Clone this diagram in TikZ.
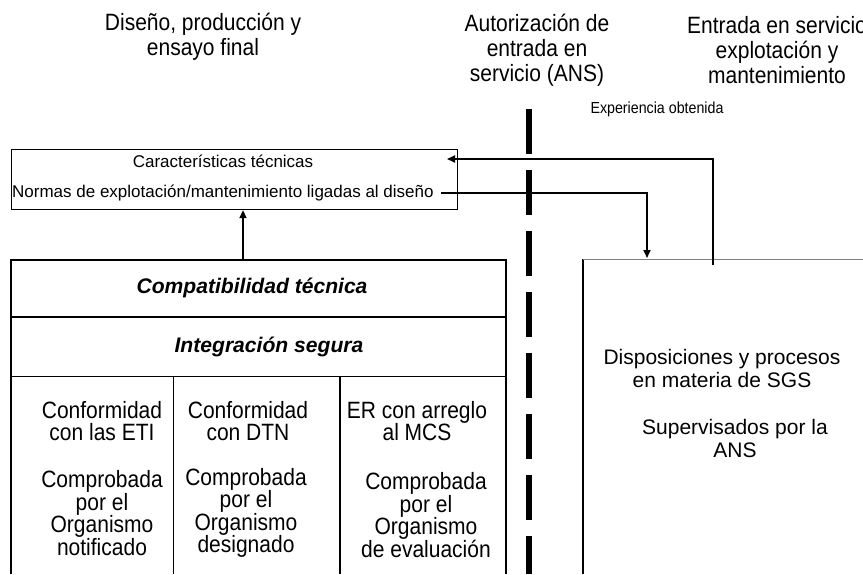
\documentclass[tikz,border=0pt]{standalone}
\usepackage{fontspec}
\setmainfont{Liberation Sans}
\newfontfamily\narrowfont{Liberation Sans}[FakeStretch=0.89]
\usetikzlibrary{arrows.meta, positioning, calc}

\begin{document}
\begin{tikzpicture}[x=1pt, y=-1pt, >={Triangle[length=8pt,width=7pt]},
    head/.style={align=center, font=\narrowfont\fontsize{23.6}{25}\selectfont},
    body/.style={align=center, font=\narrowfont\fontsize{23.6}{22.5}\selectfont},
    wide/.style={align=center, font=\fontsize{21}{23}\selectfont},
    small/.style={font=\fontsize{17}{20}\selectfont},
    title/.style={font=\fontsize{21.1}{24}\selectfont\bfseries\itshape},
    frame/.style={line width=1.6pt},
    thin/.style={line width=0.8pt},
    arr/.style={->, line width=1.8pt}]
    \useasboundingbox (0,0) rectangle (863,574);

    % phases
    \node[head] (h1) at (203,37) {Diseño, producción y\\ensayo final};
    \node[head] (h2) at (537,50) {Autorización de\\entrada en\\servicio (ANS)};
    \node[head] (h3) at (777,50) {Entrada en servicio\\explotación y\\mantenimiento};
    \node[font=\narrowfont\fontsize{16}{18}\selectfont] (exp) at (657,109) {Experiencia obtenida};

    % separator
    \coordinate (sepa) at (529,109);
    \coordinate (sepb) at (529,574);
    \draw[line width=6pt, dash pattern=on 45pt off 16pt] (sepa) -- (sepb);

    % technical characteristics
    \node[draw, line width=1.2pt, anchor=north west, minimum width=446pt, minimum height=60pt] (tech) at (11,149) {};
    \node[small] (car) at (223,161) {Características técnicas};
    \node[small, anchor=west, inner sep=1pt] (norm) at (11,193) {Normas de explotación/mantenimiento ligadas al diseño};

    % left block
    \draw[frame] (11,574) -- (11,260) -- (506,260) -- (506,574);
    \draw[frame] (11,317) -- (506,317);
    \draw[thin] (11,376) -- (506,376);
    \draw[thin] (173,376) -- (173,574);
    \draw[frame] (340,376) -- (340,574);
    \node[title] (compat) at (252,288) {Compatibilidad técnica};
    \node[title] (integ) at (269,347) {Integración segura};

    \node[body] (c1a) at (102,421) {Conformidad\\con las ETI};
    \node[body] (c1b) at (102,513) {Comprobada\\por el\\Organismo\\notificado};
    \node[body] (c2a) at (248,421) {Conformidad\\con DTN};
    \node[body] (c2b) at (246,513) {Comprobada\\por el\\Organismo\\designado};
    \node[body] (c3a) at (417,421) {ER con arreglo\\al MCS};
    \node[body] (c3b) at (426,515) {Comprobada\\por el\\Organismo\\de evaluación};

    % right block
    \draw[frame] (583,574) -- (583,259);
    \draw[thin, gray] (583,259) -- (863,259);
    \node[wide] (sgs1) at (722,368) {Disposiciones y procesos\\en materia de SGS};
    \node[wide] (sgs2) at (735,438) {Supervisados por la\\ANS};

    % arrows
    \coordinate (boxtop) at (243,260);
    \coordinate (sgsup) at (713,265);
    \coordinate (expin) at (447,159);
    \coordinate (sgsin) at (647,258);
    \draw[arr] (boxtop) -- (tech.south -| boxtop);
    \draw[arr] (sgsup) |- (expin);
    \draw[arr] ([xshift=6pt]norm.east) -| (sgsin);
\end{tikzpicture}
\end{document}
